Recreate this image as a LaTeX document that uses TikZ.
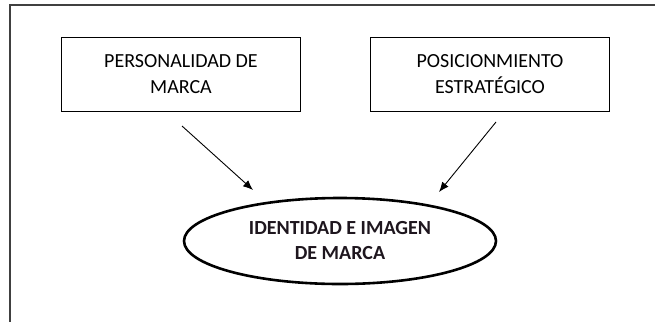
\documentclass[tikz,border=0pt]{standalone}
\usepackage{fontspec}
\setmainfont{Carlito}
\usepackage{tikz}
\usetikzlibrary{arrows.meta,shapes.geometric,positioning}
\definecolor{framegray}{RGB}{64, 64, 64}
\definecolor{inkdark}{RGB}{30, 22, 30}

\begin{document}
\begin{tikzpicture}[x=1pt, y=-1pt,
        box/.style={draw=black, line width=0.9pt, minimum width=239pt, minimum height=74pt,
                    align=center, font=\fontsize{20}{26}\selectfont, inner sep=0pt},
        oval/.style={draw=black, ellipse, line width=2.6pt, minimum width=312pt, minimum height=86pt,
                     align=center, font=\fontsize{20}{25}\selectfont\bfseries, text=inkdark, inner sep=0pt},
        link/.style={-{Latex[length=10pt, width=8pt]}, line width=0.9pt}]
            \useasboundingbox (0, 0) rectangle (655, 322);
            \draw[framegray, line width=1.4pt] (655, 5) -- (10, 5) -- (10, 322);
            \node[box]  (pers)  at (181,  74) {PERSONALIDAD DE\\MARCA};
            \node[box]  (posic) at (490,  74) {POSICIONMIENTO\\ESTRATÉGICO};
            \node[oval] (ident) at (340, 241) {IDENTIDAD E IMAGEN\\DE MARCA};
            \coordinate (pers-out)  at (182, 126);
            \coordinate (posic-out) at (496, 122);
            \coordinate (ident-l)   at (253, 190);
            \coordinate (ident-r)   at (439, 192);
            \draw[link] (pers-out)  -- (ident-l);
            \draw[link] (posic-out) -- (ident-r);
        \end{tikzpicture}
\end{document}
